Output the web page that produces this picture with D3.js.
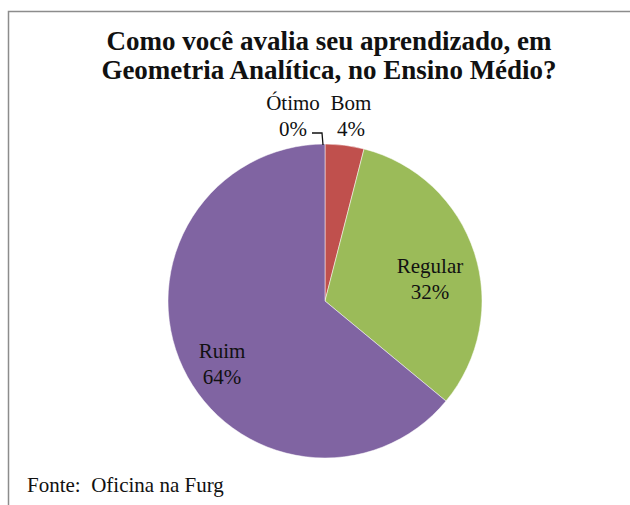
<!DOCTYPE html>
<html>
<head>
<meta charset="utf-8">
<script src="https://cdn.jsdelivr.net/npm/d3@7"></script>
<style>
body{margin:0;background:#fff;}
</style>
</head>
<body>
<script>
let width = 630, height = 505;

// data
let categories = ['Ótimo','Bom','Regular','Ruim'];
let values = [0,4,32,64];
let colors = ['#4F81BD','#C0504D','#9BBB59','#8064A2'];
let titleLines = ['Como você avalia seu aprendizado, em','Geometria Analítica, no Ensino Médio?'];
let source = 'Fonte:  Oficina na Furg';

let cx = 325, cy = 301, radius = 157;

let svg = d3.select('body').append('svg')
    .attr('width',width)
    .attr('height',height)
    .attr('font-family','"Liberation Serif", "Times New Roman", "DejaVu Serif", serif');

// frame
svg.append('path')
    .attr('d','M8.5,505 L8.5,11.5 L630,11.5')
    .attr('fill','none')
    .attr('stroke','#8c8c8c')
    .attr('stroke-width',1.5);

svg.selectAll('.title').data(titleLines).enter().append('text')
    .attr('class','title')
    .attr('x',329)
    .attr('y',(d,i)=>50+i*29)
    .attr('text-anchor','middle')
    .attr('font-size',27)
    .attr('font-weight','bold')
    .attr('fill','#111')
    .text(d=>d);

let pie = d3.pie().sort(null).value(d=>d.value);
let arc = d3.arc().innerRadius(0).outerRadius(radius);
let data = categories.map((c,i)=>({name:c,value:values[i],color:colors[i]}));
let arcs = pie(data);

let g = svg.append('g').attr('transform','translate('+cx+','+cy+')');
g.selectAll('path').data(arcs).enter().append('path')
    .attr('d',arc)
    .attr('fill',d=>d.data.color)
    .attr('stroke','#fff')
    .attr('stroke-width',0.5);

// label positions (relative to center)
let labelPos = {
    'Ótimo':[-32,-191],
    'Bom':[26,-191],
    'Regular':[105,-28],
    'Ruim':[-103,57]
};
let fmt = d=>d3.format('.0%')(d/100);
arcs.forEach(a=>{
    let p = labelPos[a.data.name];
    let t = g.append('text')
        .attr('text-anchor','middle')
        .attr('font-size',21)
        .attr('fill','#111');
    t.append('tspan').attr('x',p[0]).attr('y',p[1]).text(a.data.name);
    t.append('tspan').attr('x',p[0]).attr('y',p[1]+26).text(fmt(a.data.value));
});

// leader line for Ótimo
g.append('path')
    .attr('d','M-13,-168 L-3,-168 L-2,-'+(radius-1))
    .attr('fill','none')
    .attr('stroke','#111')
    .attr('stroke-width',1.3);

svg.append('text')
    .attr('x',27)
    .attr('y',492)
    .attr('font-size',21)
    .attr('fill','#111')
    .style('white-space','pre')
    .text(source);
</script>
</body>
</html>
